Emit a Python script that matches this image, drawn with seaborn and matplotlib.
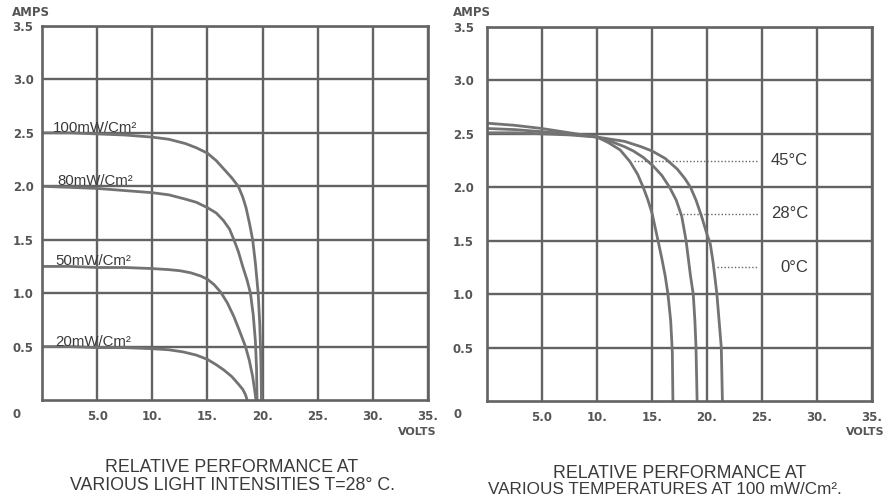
import numpy as np
import pandas as pd
import matplotlib
matplotlib.use("Agg")
import matplotlib.pyplot as plt
import seaborn as sns

# ---------------- data ----------------
# Left chart: I-V curves at various light intensities (T = 28 C)
int_labels = ["100mW/Cm²", "80mW/Cm²", "50mW/Cm²", "20mW/Cm²"]
v_100 = [0, 2.5, 5, 7.5, 10, 11.5, 13, 14, 15, 15.8, 16.5, 17.2, 17.8, 18.2, 18.5,
         18.8, 19.1, 19.35, 19.6, 19.75, 19.85, 19.9]
i_100 = [2.50, 2.50, 2.49, 2.48, 2.46, 2.44, 2.40, 2.36, 2.31, 2.24, 2.16, 2.08, 2.00,
         1.90, 1.80, 1.66, 1.50, 1.28, 1.00, 0.70, 0.35, 0.0]
v_80 = [0, 2.5, 5, 7.5, 10, 11.5, 13, 14, 15, 15.8, 16.45, 17.0, 17.4, 17.8, 18.2,
        18.6, 18.9, 19.15, 19.35, 19.45, 19.5]
i_80 = [2.00, 1.99, 1.98, 1.96, 1.94, 1.92, 1.88, 1.85, 1.80, 1.75, 1.68, 1.60, 1.50,
        1.39, 1.25, 1.12, 1.00, 0.80, 0.55, 0.30, 0.0]
v_50 = [0, 2.5, 5, 7.5, 10, 11.5, 12.5, 13.5, 14.4, 15.0, 15.6, 16.2, 16.8, 17.4,
        17.9, 18.45, 18.8, 19.1, 19.3, 19.4]
i_50 = [1.25, 1.25, 1.24, 1.24, 1.23, 1.22, 1.21, 1.19, 1.16, 1.13, 1.08, 1.01, 0.91,
        0.78, 0.65, 0.50, 0.37, 0.22, 0.08, 0.0]
v_20 = [0, 2.5, 5, 7.5, 10, 11.5, 12.8, 14.0, 15.0, 15.8, 16.5, 17.2, 17.8, 18.2,
        18.45, 18.6]
i_20 = [0.50, 0.50, 0.49, 0.49, 0.48, 0.47, 0.45, 0.42, 0.38, 0.33, 0.28, 0.22, 0.15,
        0.10, 0.05, 0.0]

# Right chart: I-V curves at various temperatures (100 mW/Cm2)
temp_labels = ["45°C", "28°C", "0°C"]
v_45 = [0, 2.5, 5, 7.5, 10, 11, 12.1, 13.0, 13.7, 14.2, 14.6, 15.0, 15.55, 15.9,
        16.2, 16.45, 16.7, 16.85, 16.9]
i_45 = [2.60, 2.58, 2.55, 2.51, 2.47, 2.42, 2.35, 2.24, 2.12, 2.00, 1.89, 1.76, 1.50,
        1.33, 1.17, 1.00, 0.75, 0.45, 0.0]
v_28 = [0, 2.5, 5, 7.5, 10, 11.5, 12.5, 13.3, 14.2, 15.1, 15.9, 16.6, 17.2, 17.7,
        18.1, 18.5, 18.75, 18.9, 19.0, 19.1]
i_28 = [2.55, 2.54, 2.52, 2.50, 2.47, 2.42, 2.38, 2.34, 2.28, 2.20, 2.11, 2.00, 1.88,
        1.73, 1.50, 1.17, 1.00, 0.75, 0.50, 0.0]
v_0 = [0, 2.5, 5, 7.5, 10, 12.5, 14, 15, 16.2, 17.3, 18.0, 18.5, 19.0, 19.5, 20.0,
       20.3, 20.55, 20.75, 20.9, 21.1, 21.3, 21.4]
i_0 = [2.51, 2.51, 2.50, 2.49, 2.47, 2.43, 2.38, 2.34, 2.27, 2.17, 2.08, 2.00, 1.88,
       1.73, 1.56, 1.47, 1.30, 1.13, 1.00, 0.75, 0.50, 0.0]

x_ticks = [5, 10, 15, 20, 25, 30, 35]
x_ticklabels = ["5.0", "10.", "15.", "20.", "25.", "30.", "35."]
y_ticks = [0.5, 1.0, 1.5, 2.0, 2.5, 3.0, 3.5]
y_ticklabels = ["0.5", "1.0", "1.5", "2.0", "2.5", "3.0", "3.5"]

# label anchors
int_label_v = [1.0, 1.35, 1.2, 1.2]
int_label_i = [2.51, 2.01, 1.26, 0.51]
temp_label_i = [2.25, 1.75, 1.25]
temp_leader_start = [13.4, 17.2, 20.9]
temp_leader_end = 24.6
temp_label_v = 29.2

title_left = ["RELATIVE PERFORMANCE AT", "VARIOUS LIGHT INTENSITIES T=28° C."]
title_right = ["RELATIVE PERFORMANCE AT", "VARIOUS TEMPERATURES AT 100 mW/Cm²."]

# ---------------- build tables ----------------
left_df = pd.concat([
    pd.DataFrame({"V": v, "I": i, "curve": lab})
    for v, i, lab in zip([v_100, v_80, v_50, v_20], [i_100, i_80, i_50, i_20], int_labels)
], ignore_index=True)
right_df = pd.concat([
    pd.DataFrame({"V": v, "I": i, "curve": lab})
    for v, i, lab in zip([v_45, v_28, v_0], [i_45, i_28, i_0], temp_labels)
], ignore_index=True)

# ---------------- style ----------------
sns.set_theme(style="white")
plt.rcParams["font.family"] = ["Liberation Sans", "DejaVu Sans"]

W, H = 886, 497
fig = plt.figure(figsize=(W / 100, H / 100), dpi=100)
fig.patch.set_facecolor("white")

GRID = "#636363"
CURVE = "#737373"
TICK = "#555555"
TXT = "#3a3a3a"


def fx(px):
    return px / W


def fy(py):
    return 1 - py / H


ax1 = fig.add_axes([fx(42), fy(400), (428 - 42) / W, (400 - 26) / H])
ax2 = fig.add_axes([fx(487), fy(401), (872 - 487) / W, (401 - 27) / H])


def style_axes(ax, ypad):
    ax.set_xlim(0, 35)
    ax.set_ylim(0, 3.5)
    ax.set_xticks(x_ticks)
    ax.set_yticks(y_ticks)
    ax.set_xticklabels(x_ticklabels, fontsize=8.5, fontweight="bold",
                       color=TICK, family="DejaVu Sans")
    ax.set_yticklabels(y_ticklabels, fontsize=8.5, fontweight="bold",
                       color=TICK, family="DejaVu Sans")
    ax.tick_params(axis="both", length=0)
    ax.tick_params(axis="x", pad=7.5)
    ax.tick_params(axis="y", pad=ypad)
    ax.grid(True, color=GRID, lw=1.7)
    for s in ax.spines.values():
        s.set_visible(True)
        s.set_color(GRID)
        s.set_linewidth(1.9)
    ax.set_xlabel("")
    ax.set_ylabel("")
    ax.set_axisbelow(True)


sns.lineplot(data=left_df, x="V", y="I", units="curve", estimator=None,
             sort=False, color=CURVE, lw=2.0, ax=ax1, legend=False)
sns.lineplot(data=right_df, x="V", y="I", units="curve", estimator=None,
             sort=False, color=CURVE, lw=2.0, ax=ax2, legend=False)

style_axes(ax1, 6)
style_axes(ax2, 9.5)

# intensity labels
for lab, v, i in zip(int_labels, int_label_v, int_label_i):
    ax1.text(v, i, lab, fontsize=10.8, color=TXT, ha="left", va="baseline")

# temperature labels with dotted leaders
for lab, i, v0 in zip(temp_labels, temp_label_i, temp_leader_start):
    ax2.plot([v0, temp_leader_end], [i, i], ls=(0, (1, 1.5)), color="#666666", lw=1.0)
    ax2.text(temp_label_v, i, lab, fontsize=12, color=TXT, ha="right", va="center")

# AMPS / VOLTS / 0
for x_amps, x_zero, x_volts in [(12, 17, 437), (453, 458, 885)]:
    fig.text(fx(x_amps), fy(13), "AMPS", fontsize=8.5, fontweight="bold",
             color=TICK, family="DejaVu Sans", ha="left", va="center")
    fig.text(fx(x_zero), fy(414), "0", fontsize=8.5, fontweight="bold",
             color=TICK, family="DejaVu Sans", ha="center", va="center")
    fig.text(fx(x_volts), fy(432), "VOLTS", fontsize=8, fontweight="bold",
             color=TICK, family="DejaVu Sans", ha="right", va="center")

# titles
fig.text(fx(232), fy(468), title_left[0], fontsize=12.8, color=TXT, ha="center", va="center")
fig.text(fx(233), fy(486), title_left[1], fontsize=12.8, color=TXT, ha="center", va="center")
fig.text(fx(680), fy(473), title_right[0], fontsize=12.8, color=TXT, ha="center", va="center")
fig.text(fx(665), fy(490), title_right[1], fontsize=12.3, color=TXT, ha="center", va="center")

fig.savefig("out.png", dpi=100, facecolor="white")
